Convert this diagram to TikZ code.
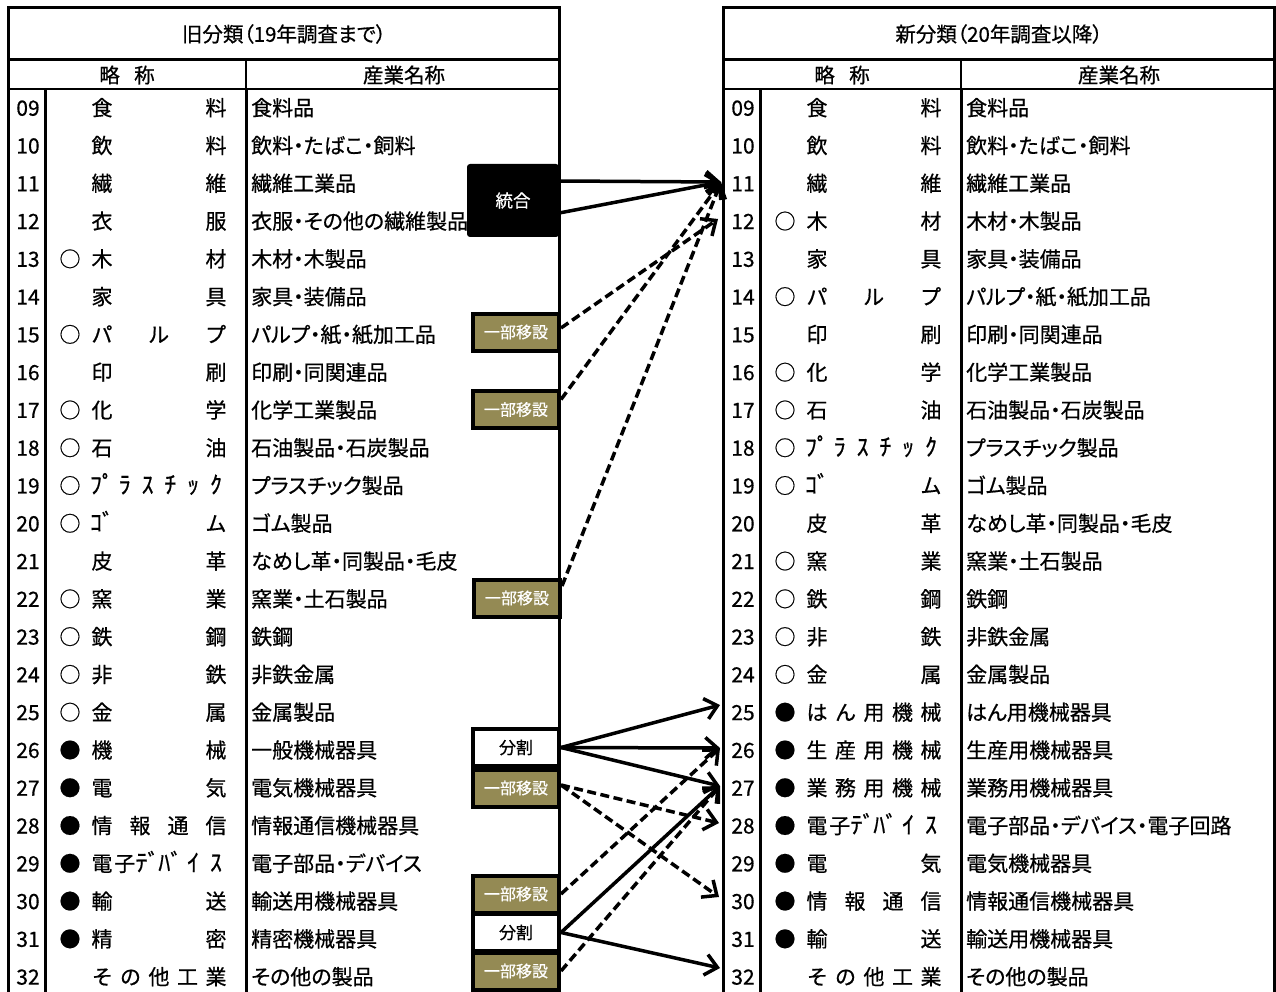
\documentclass[tikz,border=0pt]{standalone}
\usepackage{fontspec}
\setmainfont{Noto Sans CJK JP}[RawFeature={+palt},FakeBold=0.6]
\usetikzlibrary{arrows.meta}
\definecolor{boxolive}{RGB}{148,138,84}
\newcount\abbrcnt
\newcommand\hw[1]{{\fontsize{24}{28}\selectfont #1}}
% #1 x offset, #2 row index, #3 number, #4 mark, #5 abbreviation parts, #6 name
\newcommand\trow[6]{%
  \pgfmathsetmacro\ry{89+37.78*(#2+0.5)+7.8}%
  \node[txt] (n#1-#3) at (#1+28,\ry) {#3};%
  \node[txt] (m#1-#3) at (#1+70,\ry) {#4};%
  \global\abbrcnt=0
  \foreach \c in {#5}{\global\advance\abbrcnt by 1}%
  \foreach \c [count=\k] in {#5}{%
    \pgfmathsetmacro\ax{#1+102+(\k-1)*114/(\the\abbrcnt-1)}%
    \node[txt] (a#1-#3-\k) at (\ax,\ry) {\c};%
  }%
  \node[txt,anchor=base west] (t#1-#3) at (#1+251,\ry) {#6};%
}
\newcommand\tframe[3]{% #1 offset, #2 title, #3 name prefix
  \draw[thickline] (#1+8,8) -- (#1+559,8);
  \draw[thickline] (#1+8,6.5) -- (#1+8,1000);
  \draw[thickline] (#1+559,6.5) -- (#1+559,1000);
  \draw[thickline] (#1+8,60) -- (#1+559,60);
  \draw[thinline] (#1+8,89) -- (#1+559,89);
  \draw[thinline] (#1+246,60) -- (#1+246,89);
  \draw[thickline] (#1+45,89) -- (#1+45,1000);
  \draw[thickline] (#1+246,89) -- (#1+246,1000);
  \node[hdr] (#3title) at (#1+284,34) {#2};
  \node[hdr] (#3abbr) at (#1+127,75) {略\hspace{0.7em}称};
  \node[hdr] (#3name) at (#1+404,75) {産業名称};
}
\begin{document}
\begin{tikzpicture}[x=1pt,y=-1pt,
  txt/.style={anchor=base,inner sep=0pt,font=\fontsize{21}{25}\selectfont},
  hdr/.style={inner sep=0pt,font=\fontsize{20.5}{24}\selectfont},
  thickline/.style={line width=3pt},
  thinline/.style={line width=2.2pt},
  movebox/.style={draw=black,line width=4pt,fill=boxolive,text=white,minimum width=86pt,minimum height=37pt,inner sep=0pt,font=\fontsize{16}{19}\selectfont},
  splitbox/.style={movebox,fill=white,text=black,font=\fontsize{17}{20}\selectfont},
  mergebox/.style={fill=black,text=white,rounded corners=3pt,minimum width=92pt,minimum height=73pt,inner sep=0pt,font=\fontsize{17.5}{20}\selectfont},
  arr/.style={line width=3.5pt,-{Straight Barb[length=12pt,width=21pt]}},
  darr/.style={arr,dash pattern=on 9pt off 4.5pt}]
\useasboundingbox (0,0) rectangle (1276,992);
\fill[white] (0,0) rectangle (1276,992);
\tframe{0}{旧分類（19年調査まで）}{L}
\tframe{715}{新分類（20年調査以降）}{R}
% left table
\trow{0}{0}{09}{}{食,料}{食料品}
\trow{0}{1}{10}{}{飲,料}{飲料・たばこ・飼料}
\trow{0}{2}{11}{}{繊,維}{繊維工業品}
\trow{0}{3}{12}{}{衣,服}{衣服・その他の繊維製品}
\trow{0}{4}{13}{○}{木,材}{木材・木製品}
\trow{0}{5}{14}{}{家,具}{家具・装備品}
\trow{0}{6}{15}{○}{パ,ル,プ}{パルプ・紙・紙加工品}
\trow{0}{7}{16}{}{印,刷}{印刷・同関連品}
\trow{0}{8}{17}{○}{化,学}{化学工業製品}
\trow{0}{9}{18}{○}{石,油}{石油製品・石炭製品}
\trow{0}{10}{19}{○}{\hw{ﾌﾟ},\hw{ﾗ},\hw{ｽ},\hw{ﾁ},\hw{ｯ},\hw{ｸ}}{プラスチック製品}
\trow{0}{11}{20}{○}{\hw{ｺﾞ},ム}{ゴム製品}
\trow{0}{12}{21}{}{皮,革}{なめし革・同製品・毛皮}
\trow{0}{13}{22}{○}{窯,業}{窯業・土石製品}
\trow{0}{14}{23}{○}{鉄,鋼}{鉄鋼}
\trow{0}{15}{24}{○}{非,鉄}{非鉄金属}
\trow{0}{16}{25}{○}{金,属}{金属製品}
\trow{0}{17}{26}{●}{機,械}{一般機械器具}
\trow{0}{18}{27}{●}{電,気}{電気機械器具}
\trow{0}{19}{28}{●}{情,報,通,信}{情報通信機械器具}
\trow{0}{20}{29}{●}{電,子,\hw{ﾃﾞ},\hw{ﾊﾞ},\hw{ｲ},\hw{ｽ}}{電子部品・デバイス}
\trow{0}{21}{30}{●}{輸,送}{輸送用機械器具}
\trow{0}{22}{31}{●}{精,密}{精密機械器具}
\trow{0}{23}{32}{}{そ,の,他,工,業}{その他の製品}
% right table
\trow{715}{0}{09}{}{食,料}{食料品}
\trow{715}{1}{10}{}{飲,料}{飲料・たばこ・飼料}
\trow{715}{2}{11}{}{繊,維}{繊維工業品}
\trow{715}{3}{12}{○}{木,材}{木材・木製品}
\trow{715}{4}{13}{}{家,具}{家具・装備品}
\trow{715}{5}{14}{○}{パ,ル,プ}{パルプ・紙・紙加工品}
\trow{715}{6}{15}{}{印,刷}{印刷・同関連品}
\trow{715}{7}{16}{○}{化,学}{化学工業製品}
\trow{715}{8}{17}{○}{石,油}{石油製品・石炭製品}
\trow{715}{9}{18}{○}{\hw{ﾌﾟ},\hw{ﾗ},\hw{ｽ},\hw{ﾁ},\hw{ｯ},\hw{ｸ}}{プラスチック製品}
\trow{715}{10}{19}{○}{\hw{ｺﾞ},ム}{ゴム製品}
\trow{715}{11}{20}{}{皮,革}{なめし革・同製品・毛皮}
\trow{715}{12}{21}{○}{窯,業}{窯業・土石製品}
\trow{715}{13}{22}{○}{鉄,鋼}{鉄鋼}
\trow{715}{14}{23}{○}{非,鉄}{非鉄金属}
\trow{715}{15}{24}{○}{金,属}{金属製品}
\trow{715}{16}{25}{●}{は,ん,用,機,械}{はん用機械器具}
\trow{715}{17}{26}{●}{生,産,用,機,械}{生産用機械器具}
\trow{715}{18}{27}{●}{業,務,用,機,械}{業務用機械器具}
\trow{715}{19}{28}{●}{電,子,\hw{ﾃﾞ},\hw{ﾊﾞ},\hw{ｲ},\hw{ｽ}}{電子部品・デバイス・電子回路}
\trow{715}{20}{29}{●}{電,気}{電気機械器具}
\trow{715}{21}{30}{●}{情,報,通,信}{情報通信機械器具}
\trow{715}{22}{31}{●}{輸,送}{輸送用機械器具}
\trow{715}{23}{32}{}{そ,の,他,工,業}{その他の製品}
% boxes
\node[mergebox] (G) at (513,200.5) {統合};
\node[movebox] (B15) at (516,332) {一部移設};
\node[movebox] (B17) at (516,409.5) {一部移設};
\node[movebox] (B22) at (517,598) {一部移設};
\node[splitbox] (B26) at (516,747.5) {分割};
\node[movebox] (B27) at (516,788) {一部移設};
\node[movebox] (B30) at (516,894) {一部移設};
\node[splitbox] (B31) at (516,932.5) {分割};
\node[movebox] (B32) at (516,971) {一部移設};
% targets
\coordinate (T11) at (721,182);
\coordinate (T12) at (718,219);
\coordinate (T25) at (720,705);
\coordinate (T26) at (720,748);
\coordinate (T27) at (720,786);
\coordinate (T28) at (719,823);
\coordinate (T30) at (719,897);
\coordinate (T32) at (720,968);
% connectors
\draw[arr] ([yshift=19.5pt]G.east) -- (T11);
\draw[arr] ([yshift=-12.5pt]G.east) -- (T11);
\draw[darr] ([yshift=4pt]B15.east) -- (T12);
\draw[darr] ([yshift=10pt]B17.east) -- (T11);
\draw[darr] ([yshift=12pt]B22.east) -- (T11);
\draw[arr] (B26.east) -- (T25);
\draw[arr] (B26.east) -- (T26);
\draw[arr] (B26.east) -- (T27);
\draw[darr] ([yshift=3pt]B27.east) -- (T28);
\draw[darr] ([yshift=3pt]B27.east) -- (T30);
\draw[darr] (B30.east) -- (T26);
\draw[arr] (B31.east) -- (T27);
\draw[arr] (B31.east) -- (T32);
\draw[darr] (B32.east) -- (T27);
\end{tikzpicture}
\end{document}
